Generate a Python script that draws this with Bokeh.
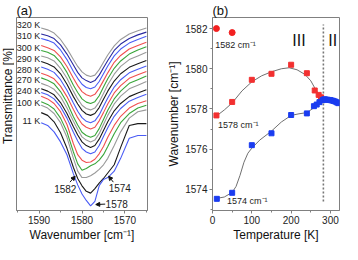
import math
from bokeh.plotting import figure
from bokeh.layouts import row
from bokeh.models import Range1d, FixedTicker, Arrow, NormalHead
from bokeh.core.properties import value
from bokeh.embed import file_html
from bokeh.resources import INLINE

FONT = "Liberation Sans"
AX = "#808080"

# ---------------- panel (a): spectra ----------------
wavenumber = [1589.5, 1588, 1586.5, 1585, 1583.5, 1582, 1581, 1580, 1579, 1578,
              1577, 1576, 1575, 1574, 1572.5, 1571, 1569, 1567, 1565]

# offset transmittance (arb. units), top curve (320 K) to bottom curve (11 K)
spectra = [
    [199.5, 197.5, 194, 187, 177, 165, 157.5, 151.5, 148, 146.5, 148, 154, 162, 170, 180, 187, 193, 196.5, 199.5],
    [193, 191, 188, 181, 171, 159, 151, 145, 142, 140, 142, 148, 156, 164, 175, 182, 188, 192, 195],
    [188, 186, 183, 175.5, 165, 152, 144.5, 138, 134.5, 133, 135, 141, 149.5, 158, 169, 176.5, 183, 187, 190.5],
    [180.5, 178, 175, 168, 157.5, 144.5, 136.5, 130, 126.5, 125, 127, 133.5, 142, 150.5, 162, 169.5, 176.5, 180.5, 184],
    [175, 173, 169.5, 162, 151, 137, 129, 122, 118.5, 117, 119, 125.5, 135, 144, 155.5, 163.5, 171, 175.5, 179],
    [169, 167, 163.5, 155.5, 144.5, 130.5, 122, 115, 111.5, 110, 112, 118.5, 128, 137.5, 149, 157.5, 165, 169, 173],
    [163, 160.5, 157, 149.5, 138, 124.5, 116.5, 109.5, 105.5, 104, 106, 112.5, 121.5, 130.5, 141.5, 149.5, 156.5, 160.5, 164],
    [157, 154.5, 151, 143, 131.5, 117.5, 108.5, 101.5, 97.5, 96, 98, 104.5, 114, 123, 135, 143, 150.5, 154.5, 158],
    [150, 147.5, 144, 136, 124.5, 110.5, 101.5, 94.5, 91, 89, 91, 98, 107, 116.5, 128.5, 136.5, 144.5, 148.5, 152],
    [145, 142.5, 138.5, 130, 118, 102.5, 93.5, 85.5, 82, 80, 82, 89.5, 99.5, 109.5, 122, 130.5, 139, 143, 147],
    [139, 136.5, 132.5, 124.5, 112, 97.5, 88.5, 80.5, 77, 75, 77, 84, 94, 104, 116.5, 125, 133, 137, 141],
    [133, 130.5, 126.5, 118, 106, 91.5, 82.5, 75, 71, 69, 71, 78, 87.5, 97, 109, 117, 124.5, 128.5, 132],
    [129, 126.5, 122, 113.5, 101, 85.5, 76, 68, 64, 62, 64, 71, 81, 90.5, 103, 111.5, 119.5, 123.5, 127],
    [125, 122, 117, 108, 94, 73, 61, 55, 52.5, 53, 56, 62, 70, 80, 93, 103, 112, 117, 120],
    [119, 116, 111, 101, 86, 64, 51, 44, 46, 49, 51, 55, 61, 70, 84, 96, 106, 112, 115],
    [115, 112, 106, 96, 80, 57, 43, 36, 36, 38, 41, 45, 50, 57, 71, 86, 101, 108, 110],
    [107, 104, 97, 85, 68, 47, 35, 27, 21, 19, 24, 30, 35, 41, 50, 69, 93, 95, 95],
    [96, 93, 86, 75, 61, 40, 28, 18, 11, 5, 10, 27, 34, 36, 43, 57, 79, 82, 82],
]
GRAY, NAVY, BLUE, RED, GREEN, BLACK = "#9a9a9a", "#2a2aa0", "#4a5cf5", "#f05050", "#3aa63a", "#1a1a1a"
curve_colors = [GRAY, NAVY, BLUE, RED, GREEN, GRAY, BLACK, BLUE, RED, GREEN,
                GRAY, BLACK, BLUE, RED, GREEN, GRAY, BLACK, BLUE]

temp_labels = ["320 K", "310 K", "300 K", "290 K", "280 K", "270 K", "240 K", "100 K", "11 K"]
temp_label_y = [203, 191, 178, 166, 154, 143, 131, 118, 98]
temp_label_x = [1589.7] * len(temp_labels)

H = 244
TOP, BOTTOM = 13, 32

# narrow strip that carries the rotated y-axis title of panel (a)
ylab = figure(width=14, height=H, x_range=Range1d(0, 1), y_range=Range1d(0, H),
              output_backend="svg", toolbar_location=None,
              min_border_left=0, min_border_right=0, min_border_top=0, min_border_bottom=0)
ylab.axis.visible = False
ylab.grid.visible = False
ylab.outline_line_color = None
ylab.text(x=[0.55], y=[84], text=["Transmittance [%]"],
          angle=math.pi / 2, text_font=value(FONT), text_font_size="12px",
          text_align="left", text_baseline="middle", text_color="#111")

pa = figure(width=150, height=H, x_range=Range1d(1595.25, 1564.75), y_range=Range1d(0, 211),
            output_backend="svg", toolbar_location=None,
            min_border_left=2, min_border_right=17, min_border_top=TOP, min_border_bottom=BOTTOM)

for ys, c in zip(spectra, curve_colors):
    pa.line(wavenumber, ys, line_color=c, line_width=1.1)

pa.text(x=temp_label_x, y=temp_label_y, text=temp_labels, text_font=value(FONT),
        text_font_size="9px", text_align="right", text_baseline="middle", text_color="#222")

peak_text = ["1582", "1574", "1578"]
peak_text_x = [1583.9, 1571.2, 1574.5]
peak_text_y = [24, 25, 7]
peak_text_align = ["center", "center", "left"]
pa.text(x=peak_text_x, y=peak_text_y, text=peak_text, text_align=peak_text_align,
        text_font=value(FONT), text_font_size="10px", text_baseline="middle", text_color="#222")
arrow_x0 = [1582.8, 1572.7, 1574.6]
arrow_y0 = [31, 31, 7]
arrow_x1 = [1581.6, 1573.8, 1576.8]
arrow_y1 = [37.5, 37.5, 6.5]
for x0, y0, x1, y1 in zip(arrow_x0, arrow_y0, arrow_x1, arrow_y1):
    pa.add_layout(Arrow(end=NormalHead(size=4, line_color="#111", fill_color="#111"),
                        x_start=x0, y_start=y0, x_end=x1, y_end=y1,
                        line_color="#111", line_width=1))

pa.xaxis.ticker = FixedTicker(ticks=[1570, 1580, 1590], minor_ticks=[1565, 1575, 1585, 1595])
pa.xaxis.axis_label = "Wavenumber [cm\u207b\u00b9]"
pa.yaxis.visible = False

# ---------------- panel (b): peak positions ----------------
circle_T = [10, 50]
circle_wn = [1582.0, 1581.8]
red_T = [10, 50, 100, 150, 200, 240, 260, 270, 276]
red_wn = [1577.68, 1578.35, 1579.45, 1579.75, 1580.2, 1579.78, 1578.92, 1578.7, 1578.58]
blue_T = [11, 50, 100, 150, 200, 240, 258, 265, 272, 280, 284, 288, 292, 296, 300,
          304, 308, 312, 316, 320]
blue_wn = [1573.53, 1573.83, 1576.2, 1576.79, 1577.7, 1577.78, 1578.14, 1578.22, 1578.34,
           1578.44, 1578.48, 1578.47, 1578.46, 1578.45, 1578.44, 1578.42, 1578.4, 1578.37,
           1578.33, 1578.29]
red_fit_T = [10, 30, 50, 75, 100, 125, 150, 175, 195, 215, 235, 250, 260, 270, 280]
red_fit_wn = [1577.65, 1577.95, 1578.3, 1578.9, 1579.35, 1579.65, 1579.85, 1580.0, 1580.05,
              1579.95, 1579.72, 1579.4, 1579.05, 1578.72, 1578.5]
blue_fit_T = [10, 30, 50, 60, 70, 80, 90, 100, 120, 150, 175, 200, 220, 240, 255, 265, 275, 282]
blue_fit_wn = [1573.55, 1573.62, 1573.85, 1574.15, 1574.7, 1575.35, 1575.8, 1576.05, 1576.45,
               1576.9, 1577.35, 1577.68, 1577.76, 1577.82, 1578.02, 1578.2, 1578.38, 1578.47]
phase_boundary_T = 282

pb = figure(width=178, height=H, x_range=Range1d(0, 323), y_range=Range1d(1572.95, 1582.55),
            output_backend="svg", toolbar_location=None,
            min_border_left=42, min_border_right=3, min_border_top=TOP, min_border_bottom=BOTTOM)

pb.segment(x0=[phase_boundary_T], y0=[1573.4], x1=[phase_boundary_T], y1=[1582.2],
           line_color="#777", line_width=1.6, line_dash="2 2")
pb.line(red_fit_T, red_fit_wn, line_color="#707070", line_width=1)
pb.line(blue_fit_T, blue_fit_wn, line_color="#707070", line_width=1)
pb.scatter(circle_T, circle_wn, marker="circle", size=6, fill_color="#f22020", line_color="#f22020")
pb.scatter(red_T, red_wn, marker="square", size=5, fill_color="#f23030", line_color="#f23030")
pb.scatter(blue_T, blue_wn, marker="square", size=5, fill_color="#1a3cf0", line_color="#1a3cf0")

band_text = ["1582 cm\u207b\u00b9", "1578 cm\u207b\u00b9", "1574 cm\u207b\u00b9"]
band_text_x = [7, 14, 37]
band_text_y = [1581.2, 1577.2, 1573.4]
pb.text(x=band_text_x, y=band_text_y, text=band_text, text_font=value(FONT),
        text_font_size="9px", text_baseline="middle", text_color="#222")
phase_text = ["III", "II"]
phase_text_x = [220, 306]
phase_text_y = [1581.4, 1581.4]
pb.text(x=phase_text_x, y=phase_text_y, text=phase_text, text_font=value(FONT),
        text_font_size="16px", text_align="center", text_baseline="middle", text_color="#111")

pb.xaxis.ticker = FixedTicker(ticks=[0, 100, 200, 300], minor_ticks=[50, 150, 250])
pb.yaxis.ticker = FixedTicker(ticks=[1574, 1576, 1578, 1580, 1582],
                              minor_ticks=[1573, 1575, 1577, 1579, 1581])
pb.xaxis.axis_label = "Temperature [K]"
pb.yaxis.axis_label = "Wavenumber [cm\u207b\u00b9]"

for p, letter in ((pa, "(a)"), (pb, "(b)")):
    p.title.text = letter
    p.title.align = "left"
    p.title.text_font = FONT
    p.title.text_font_size = "13px"
    p.title.text_font_style = "normal"
    p.title.text_color = "#111"
    p.title.standoff = 0
    p.grid.visible = False
    p.outline_line_color = AX
    p.outline_line_width = 1
    p.background_fill_color = "white"
    p.border_fill_color = "white"
    for ax in (p.xaxis, p.yaxis):
        ax.axis_line_color = AX
        ax.major_tick_line_color = AX
        ax.minor_tick_line_color = AX
        ax.major_tick_in = 0
        ax.major_tick_out = 3
        ax.minor_tick_in = 0
        ax.minor_tick_out = 2
        ax.major_label_text_font = FONT
        ax.major_label_text_font_size = "10px"
        ax.major_label_text_color = "#222"
        ax.major_label_standoff = 2
        ax.axis_label_text_font = FONT
        ax.axis_label_text_font_size = "12px"
        ax.axis_label_text_font_style = "normal"
        ax.axis_label_text_color = "#111"
        ax.axis_label_standoff = 1

layout = row(ylab, pa, pb)
open("out.html", "w").write(file_html(layout, INLINE))
